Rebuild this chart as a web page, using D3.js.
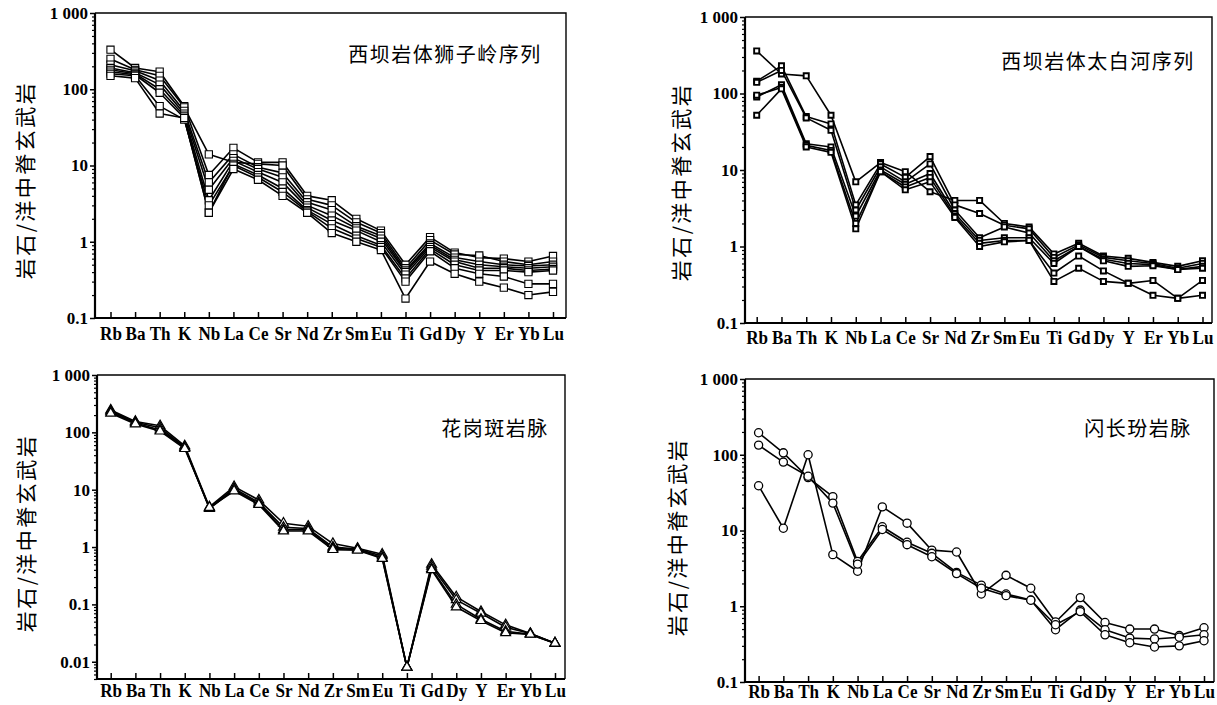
<!DOCTYPE html>
<html>
<head>
<meta charset="utf-8">
<script src="https://cdn.jsdelivr.net/npm/d3@7"></script>
<style>
  body { margin: 0; background: #fff; }
  svg { display: block; }
</style>
</head>
<body>
<svg id="chart" width="1217" height="705"></svg>
<script>
// element order along the x axis
var elements = ["Rb","Ba","Th","K","Nb","La","Ce","Sr","Nd","Zr","Sm","Eu","Ti","Gd","Dy","Y","Er","Yb","Lu"];

var yTicks = [0.1, 1, 10, 100, 1000];
var yTickLabels = ["0.1", "1", "10", "100", "1 000"];
var yTicksWide = [0.01, 0.1, 1, 10, 100, 1000];
var yTickLabelsWide = ["0.01", "0.1", "1", "10", "100", "1 000"];

var axisTitle = "岩石/洋中脊玄武岩";

// 西坝岩体狮子岭序列
var shiziling = [
  [330, 190, 170, 60, 7.5, 17, 11, 11, 4.0, 3.5, 2.0, 1.4, 0.5, 1.15, 0.72, 0.62, 0.6, 0.55, 0.65],
  [250, 180, 150, 58, 14, 11, 10.5, 10, 3.6, 3.0, 1.8, 1.3, 0.45, 1.05, 0.68, 0.66, 0.55, 0.5, 0.55],
  [210, 175, 130, 52, 6, 14, 9.5, 8, 3.3, 2.6, 1.6, 1.2, 0.42, 0.95, 0.62, 0.55, 0.5, 0.48, 0.5],
  [190, 165, 115, 48, 4.8, 12.5, 9, 7, 3.0, 2.2, 1.5, 1.1, 0.4, 0.9, 0.58, 0.5, 0.47, 0.45, 0.47],
  [180, 160, 100, 45, 3.5, 11.5, 8.2, 6, 2.8, 1.9, 1.4, 1.0, 0.37, 0.85, 0.55, 0.45, 0.45, 0.42, 0.44],
  [170, 155, 90, 42, 2.4, 10.5, 7.5, 5, 2.6, 1.7, 1.2, 0.9, 0.33, 0.8, 0.5, 0.42, 0.42, 0.4, 0.42],
  [160, 150, 60, 40, 3, 10, 7, 4.5, 2.5, 1.5, 1.1, 0.85, 0.3, 0.75, 0.45, 0.38, 0.35, 0.28, 0.28],
  [150, 140, 48, 42, 2.4, 9, 6.5, 4, 2.4, 1.3, 1.0, 0.78, 0.18, 0.55, 0.38, 0.3, 0.25, 0.2, 0.22]
];

// 西坝岩体太白河序列
var taibaihe = [
  [360, 180, 170, 52, 7, 12.5, 9.5, 5.2, 4.0, 4.0, 2.0, 1.8, 0.8, 1.1, 0.75, 0.7, 0.62, 0.55, 0.65],
  [145, 230, 50, 40, 3.5, 12, 8, 15, 3.5, 2.7, 1.9, 1.7, 0.72, 1.05, 0.72, 0.65, 0.6, 0.52, 0.6],
  [140, 200, 48, 33, 3, 11, 7, 12, 3.0, 1.3, 1.8, 1.5, 0.65, 1.0, 0.68, 0.6, 0.58, 0.5, 0.55],
  [90, 130, 22, 20, 2.5, 10, 6.5, 9, 2.7, 1.2, 1.3, 1.3, 0.6, 1.0, 0.65, 0.55, 0.56, 0.5, 0.52],
  [95, 120, 21, 18, 2, 9.5, 6, 8, 2.5, 1.1, 1.2, 1.2, 0.45, 0.75, 0.48, 0.33, 0.36, 0.21, 0.36],
  [52, 115, 20, 17, 1.7, 9.5, 5.5, 7, 2.4, 1.0, 1.15, 1.2, 0.35, 0.52, 0.35, 0.33, 0.23, 0.21, 0.23]
];

// 花岗斑岩脉
var granitePorphyry = [
  [245, 155, 130, 58, 5.0, 11.3, 6.6, 2.6, 2.3, 1.15, 0.95, 0.75, 0.008, 0.5, 0.135, 0.075, 0.044, 0.031, 0.021],
  [235, 150, 120, 55, 4.8, 10.5, 6.0, 2.2, 2.1, 1.0, 0.92, 0.7, 0.008, 0.46, 0.12, 0.07, 0.04, 0.031, 0.021],
  [225, 145, 110, 55, 4.7, 10, 5.7, 2.0, 2.0, 0.95, 0.9, 0.65, 0.008, 0.42, 0.1, 0.055, 0.034, 0.03, 0.021],
  [215, 140, 105, 52, 4.9, 9.5, 5.5, 1.9, 1.9, 0.9, 0.88, 0.63, 0.008, 0.4, 0.09, 0.052, 0.032, 0.03, 0.021]
];

// 闪长玢岩脉
var dioritePorphyrite = [
  [39, 10.7, 100, 4.8, 2.9, 20.5, 12.5, 5.5, 5.2, 1.45, 2.56, 1.73, 0.62, 1.3, 0.61, 0.5, 0.5, 0.41, 0.52],
  [195, 106, 50, 28, 3.9, 11.2, 7.0, 5.0, 2.8, 1.9, 1.45, 1.21, 0.49, 0.89, 0.49, 0.38, 0.37, 0.39, 0.42],
  [134, 80, 52, 23, 3.6, 10.3, 6.5, 4.5, 2.7, 1.73, 1.38, 1.2, 0.57, 0.85, 0.42, 0.33, 0.29, 0.3, 0.35]
];

var panels = [
  { title: "西坝岩体狮子岭序列", data: shiziling, marker: "open-square",
    left: 95, right: 566, top: 13, bottom: 318, x0: 110.5, x1: 553, yMin: 0.1,
    ticks: yTicks, tickLabels: yTickLabels, labelOff: 8.8,
    titleX: 445, titleY: 53, axisTitleX: 24, axisTitleY: 180 },
  { title: "西坝岩体太白河序列", data: taibaihe, marker: "solid-square",
    left: 745, right: 1212, top: 17, bottom: 323, x0: 756.7, x1: 1202.5, yMin: 0.1,
    ticks: yTicks, tickLabels: yTickLabels, labelOff: 7.8,
    titleX: 1098, titleY: 60, axisTitleX: 680, axisTitleY: 182 },
  { title: "花岗斑岩脉", data: granitePorphyry, marker: "triangle",
    left: 97, right: 565, top: 375, bottom: 679, x0: 110.7, x1: 555, yMin: 0.005,
    ticks: yTicksWide, tickLabels: yTickLabelsWide, labelOff: 4.5,
    titleX: 495, titleY: 427, axisTitleX: 25, axisTitleY: 533 },
  { title: "闪长玢岩脉", data: dioritePorphyrite, marker: "circle",
    left: 745, right: 1214, top: 379, bottom: 682, x0: 758.6, x1: 1204, yMin: 0.1,
    ticks: yTicks, tickLabels: yTickLabels, labelOff: 2.5,
    titleX: 1138, titleY: 427, axisTitleX: 676, axisTitleY: 537 }
];

var svg = d3.select("#chart");
var serif = "'Liberation Serif', 'Times New Roman', serif";
var cjk = "'Noto Sans CJK SC', sans-serif";

var symbols = {
  "open-square": { type: d3.symbolSquare, size: 52, sw: 1.1 },
  "solid-square": { type: d3.symbolSquare, size: 26, sw: 1.9 },
  "triangle": { type: d3.symbolTriangle, size: 42, sw: 1.2 },
  "circle": { type: d3.symbolCircle, size: 52, sw: 1.3 }
};

panels.forEach(function(p) {
  var g = svg.append("g");
  var x = d3.scalePoint().domain(elements).range([p.x0, p.x1]);
  var y = d3.scaleLog().domain([p.yMin, 1000]).range([p.bottom, p.top]);

  // thin top/right frame
  g.append("path")
    .attr("d", "M" + p.left + "," + p.top + "H" + p.right + "V" + p.bottom)
    .attr("fill", "none").attr("stroke", "#000").attr("stroke-width", 1.4);

  // minor log ticks
  var minor = [];
  var e0 = Math.floor(Math.log10(p.yMin) + 1e-9);
  for (var e = e0; e < 3; e++) {
    for (var m = 2; m < 10; m++) {
      var v = m * Math.pow(10, e);
      if (v >= p.yMin * 0.999) minor.push(v);
    }
  }
  var ym = g.append("g").attr("transform", "translate(" + p.left + ",0)")
    .call(d3.axisLeft(y).tickValues(minor).tickSize(3).tickSizeOuter(0).tickFormat(""));
  ym.select(".domain").remove();
  ym.selectAll("line").attr("stroke-width", 1.2);

  var ya = g.append("g").attr("transform", "translate(" + p.left + ",0)")
    .call(d3.axisLeft(y).tickValues(p.ticks).tickSize(5).tickSizeOuter(0).tickPadding(2)
      .tickFormat(function(d, i) { return p.tickLabels[i]; }));
  ya.select(".domain").remove();
  ya.selectAll("line").attr("stroke-width", 1.5);
  ya.selectAll("text")
    .attr("font-family", serif).attr("font-weight", "bold").attr("font-size", 17);

  var xa = g.append("g").attr("transform", "translate(0," + p.bottom + ")")
    .call(d3.axisBottom(x).tickSize(-6).tickSizeOuter(0));
  xa.select(".domain").remove();
  xa.selectAll("line").attr("stroke-width", 1.5);
  xa.selectAll("text")
    .attr("y", p.labelOff).attr("dy", "0.71em")
    .attr("transform", "scale(0.9,1)")
    .attr("font-family", serif).attr("font-weight", "bold").attr("font-size", 19);

  // thick left and bottom axis lines
  g.append("path")
    .attr("d", "M" + p.left + "," + p.top + "V" + p.bottom + "H" + p.right)
    .attr("fill", "none").attr("stroke", "#000").attr("stroke-width", 2.2);

  var line = d3.line()
    .x(function(d, i) { return x(elements[i]); })
    .y(function(d) { return y(d); });

  g.selectAll("path.series")
    .data(p.data)
    .enter().append("path")
    .attr("class", "series")
    .attr("d", line)
    .attr("fill", "none").attr("stroke", "#000").attr("stroke-width", 1.6)
    .attr("stroke-linejoin", "round");

  var sym = symbols[p.marker];
  var shape = d3.symbol().type(sym.type).size(sym.size);
  p.data.forEach(function(s) {
    g.selectAll(null)
      .data(s)
      .enter().append("path")
      .attr("transform", function(d, i) { return "translate(" + x(elements[i]) + "," + y(d) + ")"; })
      .attr("d", shape)
      .attr("fill", "#fff").attr("stroke", "#000").attr("stroke-width", sym.sw);
  });

  g.append("text")
    .attr("x", p.titleX).attr("y", p.titleY)
    .attr("text-anchor", "middle").attr("dominant-baseline", "central")
    .attr("font-family", cjk).attr("font-size", 20).attr("letter-spacing", "1.5px")
    .text(p.title);

  g.append("text")
    .attr("transform", "translate(" + p.axisTitleX + "," + p.axisTitleY + ") rotate(-90)")
    .attr("text-anchor", "middle").attr("dominant-baseline", "central")
    .attr("font-family", cjk).attr("font-size", 21).attr("letter-spacing", "2.5px")
    .text(axisTitle);
});
</script>
</body>
</html>
